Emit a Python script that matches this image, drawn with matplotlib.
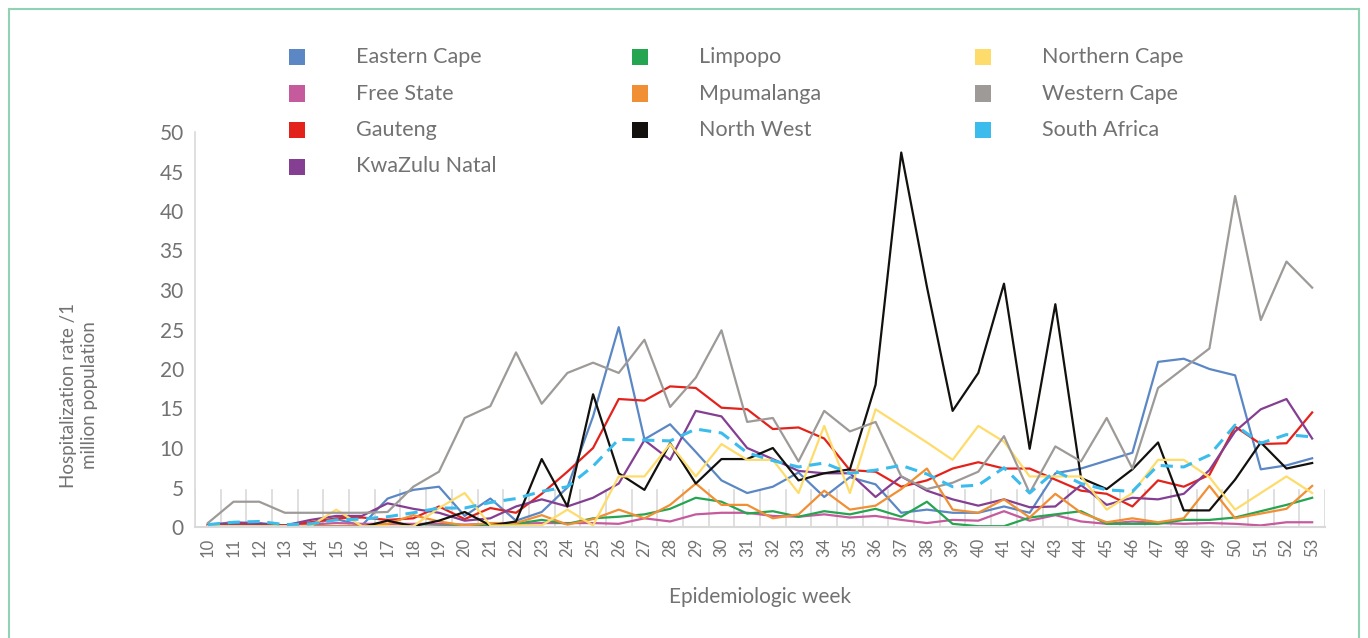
import matplotlib
matplotlib.use("Agg")
import matplotlib.pyplot as plt
from matplotlib.patches import Rectangle

plt.rcParams['font.family'] = ['Lato', 'DejaVu Sans']

weeks = list(range(10, 54))

provinces = ['Eastern Cape', 'Free State', 'Gauteng', 'KwaZulu Natal', 'Limpopo',
             'Mpumalanga', 'North West', 'Northern Cape', 'Western Cape', 'South Africa']

eastern_cape = [0.3, 0.6, 0.5, 0.2, 0.5, 1.0, 0.2, 3.6, 4.7, 5.1,
                1.4, 3.6, 0.8, 1.9, 5.0, 14.0, 25.3, 11.1, 13.0, 9.5,
                5.9, 4.3, 5.1, 6.9, 3.8, 6.3, 5.4, 1.8, 2.2, 1.8,
                1.8, 2.6, 1.8, 6.8, 7.4, 8.4, 9.4, 20.9, 21.3, 20.0,
                19.2, 7.3, 7.8, 8.7]
free_state = [0.2, 0.5, 0.3, 0.2, 0.3, 0.5, 0.4, 0.4, 0.4, 0.4,
              0.3, 0.4, 0.4, 0.5, 0.5, 0.5, 0.4, 1.1, 0.7, 1.6,
              1.8, 1.8, 1.4, 1.3, 1.6, 1.2, 1.4, 0.9, 0.5, 0.9,
              0.8, 2.0, 0.8, 1.5, 0.7, 0.4, 0.7, 0.5, 0.4, 0.5,
              0.4, 0.2, 0.6, 0.6]
gauteng = [0.2, 0.5, 0.4, 0.2, 0.6, 1.1, 1.2, 0.9, 1.1, 2.6,
           1.0, 2.4, 1.8, 4.2, 7.0, 10.0, 16.2, 16.0, 17.8, 17.6,
           15.1, 14.9, 12.4, 12.6, 11.2, 7.2, 7.0, 5.1, 5.9, 7.4,
           8.2, 7.4, 7.4, 6.0, 4.6, 4.2, 2.6, 5.9, 5.1, 6.6,
           12.7, 10.5, 10.6, 14.5]
kwazulu_natal = [0.3, 0.4, 0.4, 0.2, 0.9, 1.4, 1.4, 3.0, 2.3, 1.8,
                 0.8, 1.1, 2.6, 3.5, 2.6, 3.7, 5.5, 11.0, 8.5, 14.7,
                 14.0, 10.0, 8.6, 7.1, 6.8, 6.8, 3.8, 6.4, 4.6, 3.5,
                 2.7, 3.5, 2.5, 2.6, 5.3, 2.8, 3.7, 3.5, 4.2, 7.2,
                 12.1, 14.9, 16.2, 11.2]
limpopo = [0.0, 0.0, 0.0, 0.0, 0.0, 0.0, 0.0, 0.0, 0.0, 0.1,
           0.1, 0.2, 0.4, 0.9, 0.4, 1.1, 1.3, 1.6, 2.3, 3.7,
           3.2, 1.7, 2.0, 1.3, 2.0, 1.6, 2.3, 1.3, 3.2, 0.4,
           0.1, 0.1, 1.2, 1.6, 2.0, 0.4, 0.4, 0.4, 0.9, 0.9,
           1.2, 2.0, 2.8, 3.7]
mpumalanga = [0.1, 0.1, 0.1, 0.1, 0.1, 0.1, 0.1, 0.4, 1.5, 0.7,
              0.2, 0.5, 0.5, 1.5, 0.3, 1.0, 2.2, 1.1, 2.8, 5.5,
              2.8, 2.8, 1.1, 1.6, 4.6, 2.2, 2.7, 4.8, 7.4, 2.2,
              1.8, 3.5, 1.2, 4.2, 1.8, 0.6, 1.1, 0.6, 1.1, 5.2,
              1.1, 1.7, 2.3, 5.2]
north_west = [0.0, 0.0, 0.0, 0.0, 0.0, 0.0, 0.0, 0.8, 0.1, 0.8,
              1.9, 0.2, 0.7, 8.6, 2.6, 16.8, 6.8, 4.7, 10.6, 5.5,
              8.6, 8.6, 10.0, 5.9, 6.8, 7.3, 18.0, 47.4, 30.4, 14.7,
              19.5, 30.8, 9.9, 28.2, 6.2, 4.8, 7.3, 10.7, 2.1, 2.1,
              6.0, 10.7, 7.4, 8.1]
northern_cape = [0.1, 0.1, 0.1, 0.1, 0.1, 2.2, 0.1, 0.1, 0.1, 2.4,
                 4.3, 0.2, 0.2, 0.2, 2.2, 0.2, 6.4, 6.4, 10.5, 6.4,
                 10.5, 8.5, 8.5, 4.3, 12.8, 4.3, 14.9, 12.8, 10.7, 8.5,
                 12.8, 10.8, 6.4, 6.4, 6.4, 2.2, 4.3, 8.5, 8.5, 6.3,
                 2.2, 4.3, 6.4, 4.3]
western_cape = [0.5, 3.2, 3.2, 1.8, 1.8, 1.8, 1.8, 1.9, 5.1, 7.0,
                13.8, 15.3, 22.1, 15.6, 19.5, 20.8, 19.5, 23.7, 15.2, 18.9,
                24.9, 13.3, 13.8, 8.3, 14.7, 12.1, 13.3, 6.4, 4.8, 5.6,
                7.0, 11.5, 4.3, 10.2, 8.3, 13.8, 7.4, 17.6, 20.1, 22.6,
                41.9, 26.2, 33.6, 30.3]
south_africa = [0.3, 0.6, 0.7, 0.3, 0.4, 0.9, 1.0, 1.3, 1.8, 2.4,
                2.4, 3.1, 3.6, 4.5, 5.1, 7.7, 11.1, 11.0, 10.9, 12.4,
                11.9, 9.4, 8.4, 7.6, 8.1, 6.8, 7.2, 7.8, 6.7, 5.1,
                5.3, 7.5, 4.3, 7.1, 5.5, 4.7, 4.5, 7.8, 7.6, 9.1,
                12.9, 10.6, 11.7, 11.4]

series = [eastern_cape, free_state, gauteng, kwazulu_natal, limpopo,
          mpumalanga, north_west, northern_cape, western_cape, south_africa]
colors = ['#5b87c5', '#c55a9d', '#e3231b', '#843f92', '#25a550',
          '#f08f33', '#12110e', '#fedc6b', '#9d9a98', '#3bbced']

text_color = '#727272'

fig = plt.figure(figsize=(13.68, 6.38), dpi=100)
ax = fig.add_axes([195 / 1368, 1 - 527 / 638, (1325 - 195) / 1368, (527 - 132) / 638])

# short category separators along the bottom of the plot
for b in range(9, 54):
    ax.plot([b + 0.5, b + 0.5], [0, 4.7], color='#d9d9d9', lw=1.2, zorder=1)

for name, vals, c in zip(provinces, series, colors):
    if name == 'South Africa':
        ax.plot(weeks, vals, color=c, lw=2.2, dashes=(4, 2.5), zorder=3)
    else:
        ax.plot(weeks, vals, color=c, lw=1.6, zorder=2)

ax.set_xlim(9.5, 53.5)
ax.set_ylim(0, 50)
ax.set_yticks(range(0, 51, 5))
ax.set_xticks(weeks)
ax.set_xticklabels([str(w) for w in weeks], rotation=90)
ax.tick_params(axis='y', length=0, labelsize=15, labelcolor=text_color, pad=8)
ax.tick_params(axis='x', length=0, labelsize=12, labelcolor=text_color, pad=8)
for s in ['top', 'right']:
    ax.spines[s].set_visible(False)
ax.spines['left'].set_color('#d9d9d9')
ax.spines['bottom'].set_color('#d9d9d9')
ax.spines['left'].set_linewidth(1.2)
ax.spines['bottom'].set_linewidth(1.5)

fig.text(760 / 1368, 1 - 597 / 638, 'Epidemiologic week', ha='center', va='center',
         fontsize=15, color=text_color)
fig.text(79 / 1368, 1 - 395 / 638, 'Hospitalization rate /1\nmillion population',
         ha='center', va='center', rotation=90, fontsize=13.5, color=text_color,
         linespacing=1.25)

# legend laid out in three columns (4, 3, 3 entries)
col_counts = [4, 3, 3]
idx = 0
for col, n in enumerate(col_counts):
    for row in range(n):
        x0 = 297 + col * 343
        y0 = 57 + row * 36.5
        fig.add_artist(Rectangle(((x0 - 8) / 1368, 1 - (y0 + 8) / 638), 16 / 1368, 16 / 638,
                                 transform=fig.transFigure, color=colors[idx], lw=0))
        fig.text((x0 + 59) / 1368, 1 - y0 / 638, provinces[idx], ha='left', va='center',
                 fontsize=15.5, color=text_color)
        idx += 1

# outer frame
fig.add_artist(Rectangle((9 / 1368, -0.02), 1350 / 1368, 1 - 9 / 638 + 0.02,
                         transform=fig.transFigure, fill=False, ec='#8fd3b4', lw=1.5))

fig.savefig('out.png', dpi=100)
